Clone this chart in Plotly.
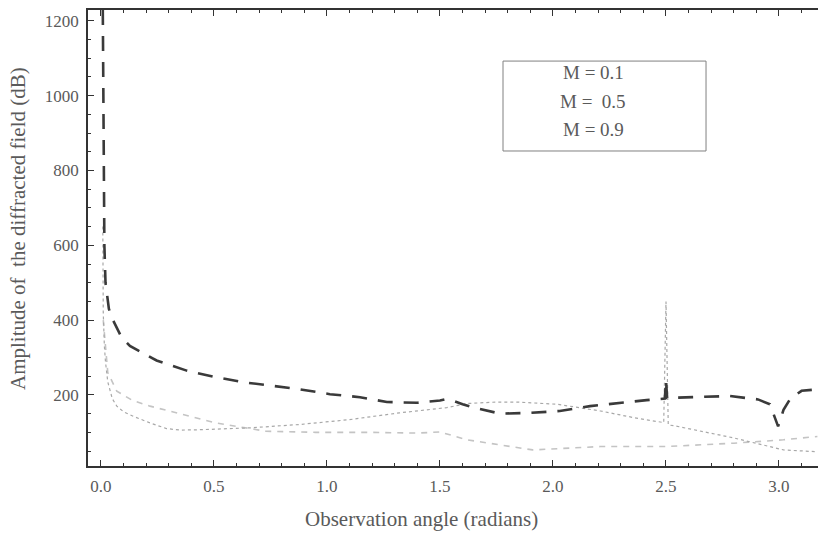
import plotly.graph_objects as go

# M = 0.1 (dark dashed)
x1 = [0.008, 0.010, 0.012, 0.015, 0.020, 0.035, 0.053, 0.09, 0.128, 0.246, 0.379, 0.496, 0.63, 0.755,
      0.88, 1.013, 1.146, 1.265, 1.40, 1.50, 1.52, 1.55, 1.60, 1.646, 1.765, 1.898, 2.03, 2.164, 2.296,
      2.414, 2.495, 2.50, 2.505, 2.55, 2.65, 2.783, 2.907, 2.96, 2.996, 3.02, 3.05, 3.10, 3.17]
y1 = [1229, 1000, 800, 600, 500, 430, 400, 355, 331, 292, 265, 249, 234, 224,
      215, 202, 194, 181, 179, 185, 188, 186, 175, 167, 150, 152, 157, 170, 179,
      186, 190, 240, 192, 193, 195, 197, 188, 175, 116, 160, 190, 211, 215]

# M = 0.5 (grey dotted)
x2 = [0.008, 0.010, 0.015, 0.020, 0.030, 0.050, 0.070, 0.10, 0.143, 0.217, 0.29, 0.35, 0.44, 0.55,
      0.66, 0.88, 1.10, 1.32, 1.53, 1.62, 1.75, 1.84, 2.02, 2.21, 2.36, 2.49, 2.50, 2.51, 2.55,
      2.80, 3.02, 3.14, 3.17]
y2 = [650, 420, 330, 288, 235, 190, 170, 155, 143, 125, 110, 106, 107, 109,
      112, 121, 134, 152, 166, 177, 181, 181, 175, 157, 139, 126, 450, 120, 116,
      85, 53, 49, 48]

# M = 0.9 (light dashed)
x3 = [0.010, 0.030, 0.070, 0.14, 0.217, 0.363, 0.51, 0.73, 0.95, 1.18, 1.40, 1.50, 1.62, 1.91,
      2.21, 2.50, 2.80, 3.02, 3.17]
y3 = [400, 260, 210, 185, 170, 148, 125, 103, 100, 100, 98, 101, 80, 53,
      62, 62, 71, 80, 89]

legend_labels = ["M = 0.1", "M =  0.5", "M = 0.9"]
x_ticks = [0.0, 0.5, 1.0, 1.5, 2.0, 2.5, 3.0]
y_ticks = [200, 400, 600, 800, 1000, 1200]
x_title = "Observation angle (radians)"
y_title = "Amplitude of  the diffracted field (dB)"

font_fam = "Liberation Serif"
txt_col = "#5a5a5a"
axis_col = "#333333"

fig = go.Figure()
fig.add_trace(go.Scatter(x=x3, y=y3, mode="lines", line=dict(color="#c4c4c4", width=1.6, dash="6px,6px"),
                         name=legend_labels[2], showlegend=False))
fig.add_trace(go.Scatter(x=x2, y=y2, mode="lines", line=dict(color="#a8a8a8", width=1.2, dash="dot"),
                         name=legend_labels[1], showlegend=False))
fig.add_trace(go.Scatter(x=x1, y=y1, mode="lines", line=dict(color="#3a3a3a", width=2.6, dash="15px,11px"),
                         name=legend_labels[0], showlegend=False))

# legend box
fig.add_shape(type="rect", xref="paper", yref="paper", x0=0.5685, x1=0.8466, y0=0.6908, y1=0.888,
              line=dict(color="#808080", width=1), fillcolor="rgba(0,0,0,0)")
for lab, yy in zip(legend_labels, [0.862, 0.8004, 0.739]):
    fig.add_annotation(xref="paper", yref="paper", x=0.6918, y=yy, text=lab, showarrow=False,
                       font=dict(family=font_fam, size=19, color=txt_col), xanchor="center", yanchor="middle")

# axis titles
fig.add_annotation(xref="paper", yref="paper", x=0.4575, y=-0.1162, text=x_title, showarrow=False,
                   font=dict(family=font_fam, size=21, color=txt_col), xanchor="center", yanchor="middle")
fig.add_annotation(xref="paper", yref="paper", x=-0.0959, y=0.522, text=y_title, showarrow=False,
                   textangle=-90, font=dict(family=font_fam, size=21, color=txt_col),
                   xanchor="center", yanchor="middle")

fig.update_layout(
    width=818, height=534,
    margin=dict(l=88, r=0, t=10, b=68),
    plot_bgcolor="white", paper_bgcolor="white",
    font=dict(family=font_fam, size=17, color=txt_col),
    showlegend=False,
)
fig.update_xaxes(
    range=[-0.0575, 3.1726], tickvals=x_ticks, ticktext=["%.1f" % v for v in x_ticks],
    ticks="inside", ticklen=6, tickcolor=axis_col, showline=True, linecolor=axis_col, linewidth=1.5,
    mirror="allticks", showgrid=False, zeroline=False,
    minor=dict(dtick=0.1, tick0=0, ticks="inside", ticklen=3, tickcolor=axis_col),
    tickfont=dict(family=font_fam, size=17, color=txt_col), ticklabelstandoff=4,
)
fig.update_yaxes(
    range=[10, 1229], tickvals=y_ticks, ticktext=[str(v) for v in y_ticks],
    ticks="inside", ticklen=6, tickcolor=axis_col, showline=True, linecolor=axis_col, linewidth=1.5,
    mirror=False, showgrid=False, zeroline=False,
    minor=dict(dtick=50, tick0=0, ticks="inside", ticklen=3, tickcolor=axis_col),
    tickfont=dict(family=font_fam, size=17, color=txt_col), ticklabelstandoff=4,
)

fig.write_html("out.html")
